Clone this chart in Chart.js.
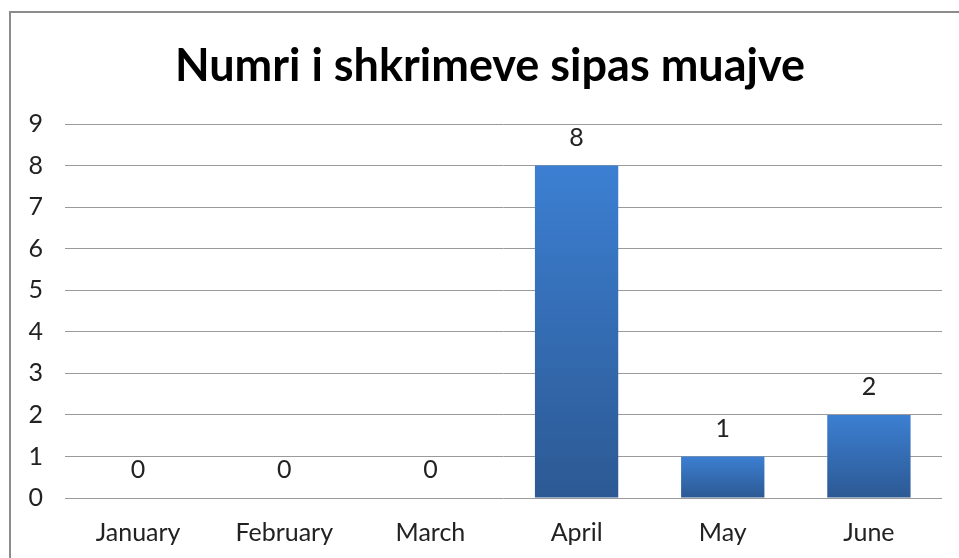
<!DOCTYPE html>
<html>
<head>
<meta charset="utf-8">
<script src="https://cdn.jsdelivr.net/npm/chart.js@4.4.0/dist/chart.umd.min.js"></script>
<style>
    html, body { margin: 0; padding: 0; background: #fff; overflow: hidden; }
    .frame { position: absolute; left: 9px; top: 11px; width: 1000px; height: 600px; border: 2px solid #8c8c8c; }
    #chart { position: absolute; left: 0; top: 0; }
</style>
</head>
<body>
<div class="frame"></div>
<canvas id="chart" width="959" height="558"></canvas>
<script>
const months = ['January', 'February', 'March', 'April', 'May', 'June'];
const counts = [0, 0, 0, 8, 1, 2];
const yTicks = [0, 1, 2, 3, 4, 5, 6, 7, 8, 9];
const chartTitle = 'Numri i shkrimeve sipas muajve';

// value labels above each bar
const barLabels = {
    id: 'barLabels',
    afterDatasetsDraw(chart) {
        const ctx = chart.ctx;
        const meta = chart.getDatasetMeta(0);
        ctx.save();
        ctx.font = '25px Lato';
        ctx.fillStyle = '#222';
        ctx.textAlign = 'center';
        ctx.textBaseline = 'middle';
        meta.data.forEach((bar, i) => {
            ctx.fillText(String(counts[i]), bar.x, bar.y - 28);
        });
        ctx.restore();
    }
};

// title centred on the outer frame, not on the canvas
const frameTitle = {
    id: 'frameTitle',
    afterDraw(chart) {
        const ctx = chart.ctx;
        ctx.save();
        ctx.font = 'bold 45px Lato';
        ctx.fillStyle = '#000';
        ctx.textAlign = 'center';
        ctx.textBaseline = 'middle';
        ctx.fillText(chartTitle, 490, 66);
        ctx.restore();
    }
};

function barGradient(context) {
    const chart = context.chart;
    const y = chart.scales.y;
    if (!y || context.parsed === undefined) return '#3a78c6';
    const top = y.getPixelForValue(context.parsed.y);
    const bottom = y.getPixelForValue(0);
    if (!isFinite(top) || top === bottom) return '#3a78c6';
    const g = chart.ctx.createLinearGradient(0, top, 0, bottom);
    g.addColorStop(0, '#3c7fd2');
    g.addColorStop(1, '#2c5993');
    return g;
}

new Chart(document.getElementById('chart'), {
    type: 'bar',
    data: {
        labels: months,
        datasets: [{
            data: counts,
            backgroundColor: barGradient,
            borderWidth: 0,
            categoryPercentage: 1,
            barPercentage: 0.57
        }]
    },
    options: {
        responsive: false,
        animation: false,
        layout: { padding: { left: 21, right: 17, top: 124, bottom: 0 } },
        plugins: {
            legend: { display: false },
            tooltip: { enabled: false },
            title: { display: false }
        },
        scales: {
            x: {
                afterFit(scale) { scale.height = 60; },
                grid: { display: false, drawTicks: false },
                border: { display: false },
                ticks: { color: '#222', font: { family: 'Lato', size: 25 }, padding: 20 }
            },
            y: {
                min: 0,
                max: 9,
                afterFit(scale) { scale.width = 44; },
                afterBuildTicks(scale) { scale.ticks = yTicks.map(v => ({ value: v })); },
                grid: { color: '#9a9a9a', lineWidth: 1, drawTicks: false },
                border: { display: false },
                ticks: { color: '#222', font: { family: 'Lato', size: 25 }, padding: 22 }
            }
        }
    },
    plugins: [barLabels, frameTitle]
});
</script>
</body>
</html>
